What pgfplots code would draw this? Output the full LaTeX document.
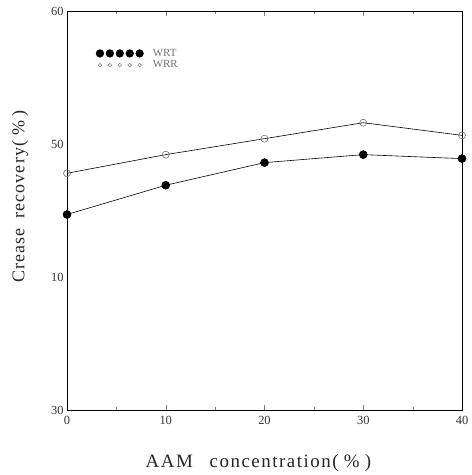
\documentclass[border=0pt]{standalone}
\usepackage{pgfplots}
\pgfplotsset{compat=1.18}
\usepackage{fontspec}
\setmainfont{Liberation Serif}
\begin{document}
\begin{tikzpicture}
\path[use as bounding box] (-67bp,-65bp) rectangle (405bp,410bp);
\begin{axis}[
  at={(0,0)}, anchor=south west,
  width=395bp, height=399bp, scale only axis,
  xmin=0, xmax=40, ymin=30, ymax=60,
  xtick={0,10,20,30,40},
  minor xtick={5,15,25,35},
  ytick={30,40,50,60},
  yticklabels={30,10,50,60},
  tick align=inside,
  major tick length=5pt, minor tick length=3pt,
  ytick style={draw=none},
  /pgf/number format/assume math mode=true,
  tick label style={font=\fontsize{12.5}{14}\selectfont, text=black!80},
  xticklabel style={yshift=-3pt},
  xlabel={AAM\;\; concentration(\;\%\;)},
  ylabel={Crease\; recovery(\;\%\;)},
  xlabel style={font=\fontsize{19}{21}\selectfont\addfontfeatures{LetterSpace=8}, text=black!85, at={(0.5,0)}, anchor=center, yshift=-53bp, xshift=-6bp},
  ylabel style={font=\fontsize{18}{20}\selectfont\addfontfeatures{LetterSpace=6}, text=black!85, at={(0,0.5)}, anchor=center, yshift=47bp, xshift=14bp},
  axis line style={line width=1pt},
  legend style={draw=none, fill=none, at={(0.065,0.915)}, anchor=north west, font=\fontsize{11}{12}\selectfont, text=black!55, row sep=-1pt},
  legend cell align=left,
]
\addplot[black, line width=0.6pt, mark=*, mark size=4pt,
  legend image code/.code={
    \foreach \i in {0,0.35,0.7,1.05,1.4}{\fill[black] (\i cm,0) circle (3.8pt);}
  }]
  coordinates {(0,44.7) (10,46.9) (20,48.6) (30,49.2) (40,48.9)};
\addlegendentry{\hspace{0.25cm}WRT}
\addplot[black, line width=0.6pt, mark=o, mark size=3.5pt, mark options={black!55},
  legend image code/.code={
    \foreach \i in {0,0.35,0.7,1.05,1.4}{\draw[black!45] (\i cm,0) circle (1.8pt);}
  }]
  coordinates {(0,47.8) (10,49.2) (20,50.4) (30,51.6) (40,50.65)};
\addlegendentry{\hspace{0.25cm}WRR}
\end{axis}
\end{tikzpicture}
\end{document}
